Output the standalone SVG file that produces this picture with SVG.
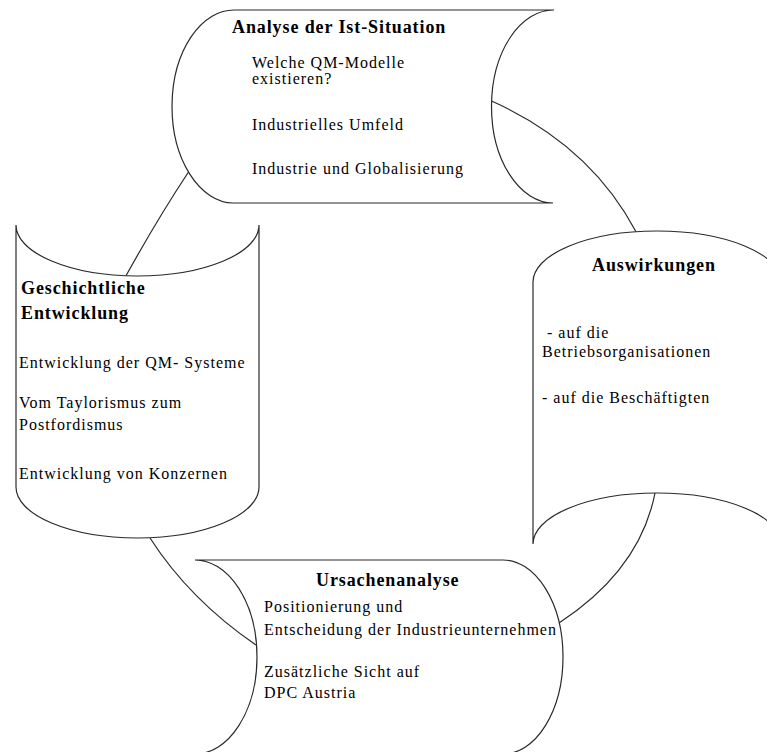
<svg xmlns="http://www.w3.org/2000/svg" width="767" height="752" viewBox="0 0 767 752">
  <style>
    .shape { fill: #ffffff; stroke: #2a2a2a; stroke-width: 1.2; }
    .link { fill: none; stroke: #2a2a2a; stroke-width: 1.2; }
    .title { font-family: "Liberation Serif", "Times New Roman", serif; font-size: 18px; font-weight: bold; letter-spacing: 0.9px; fill: #000; }
    .body { font-family: "Liberation Serif", "Times New Roman", serif; font-size: 16px; letter-spacing: 1px; fill: #000; }
  </style>
  <rect width="767" height="752" fill="#ffffff"/>

  <!-- connectors between the four stages -->
  <g id="connectors">
    <path class="link" d="M491.6,101 Q590,145 636,231.7"/>
    <path class="link" d="M655,493 Q640,570 559,623"/>
    <path class="link" d="M150,538 Q190,600 256,645"/>
    <path class="link" d="M188.5,172 Q158,218 126,275.8"/>
  </g>

  <!-- stage: analysis of the current situation -->
  <g id="analyse">
    <path class="shape" d="M235,10 L554,10 A62,96.5 0 0,0 553,203 L233,203 A62,96.5 0 0,1 235,10 Z"/>
    <text class="title" x="232" y="33">Analyse der Ist-Situation</text>
    <text class="body" x="252" y="68">Welche QM-Modelle</text>
    <text class="body" x="252" y="84">existieren?</text>
    <text class="body" x="252" y="130">Industrielles Umfeld</text>
    <text class="body" x="252" y="174">Industrie und Globalisierung</text>
  </g>

  <!-- stage: effects -->
  <g id="auswirkungen">
    <path class="shape" d="M533,282 A124,51 0 0,1 781,282 L781,544 A124,51 0 0,0 533,544 Z"/>
    <text class="title" x="592" y="271">Auswirkungen</text>
    <text class="body" x="547" y="338">- auf die</text>
    <text class="body" x="542" y="357">Betriebsorganisationen</text>
    <text class="body" x="542" y="403">- auf die Beschäftigten</text>
  </g>

  <!-- stage: root cause analysis -->
  <g id="ursachenanalyse">
    <path class="shape" d="M195,560 L503,560 A60,97 0 0,1 503,754 L195,754 A62,97 0 0,0 195,560 Z"/>
    <text class="title" x="316" y="586">Ursachenanalyse</text>
    <text class="body" x="264" y="612">Positionierung und</text>
    <text class="body" x="264" y="635">Entscheidung der Industrieunternehmen</text>
    <text class="body" x="264" y="677">Zusätzliche Sicht auf</text>
    <text class="body" x="264" y="698">DPC Austria</text>
  </g>

  <!-- stage: historical development -->
  <g id="geschichte">
    <path class="shape" d="M16,225 A121.5,51 0 0,0 259,225 L259,487 A121.5,51 0 0,1 16,487 Z"/>
    <text class="title" x="21" y="294">Geschichtliche</text>
    <text class="title" x="21" y="319">Entwicklung</text>
    <text class="body" x="19" y="368">Entwicklung der QM- Systeme</text>
    <text class="body" x="19" y="408">Vom Taylorismus zum</text>
    <text class="body" x="19" y="430">Postfordismus</text>
    <text class="body" x="19" y="479">Entwicklung von Konzernen</text>
  </g>
</svg>
